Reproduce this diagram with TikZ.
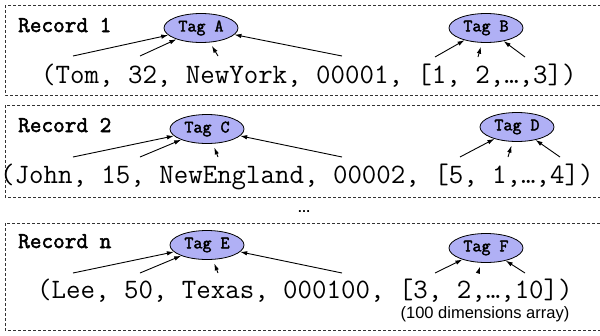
\documentclass[tikz,border=0pt]{standalone}
\usepackage{fontspec}
\setmainfont{Liberation Sans}
\newfontfamily\cour{Latin Modern Mono}[AutoFakeBold=2.2]
\usetikzlibrary{shapes.geometric,arrows.meta}
\definecolor{tagfill}{RGB}{176,176,245}
\tikzset{
  recbox/.style={draw=black!80, dashed, dash pattern=on 3pt off 2pt, line width=0.8pt},
  reclabel/.style={anchor=base west, inner sep=0, font=\cour\bfseries\fontsize{22.6}{23}\selectfont},
  datatext/.style={anchor=base west, inner sep=0, font=\cour\fontsize{28.1}{28}\selectfont},
  tagnode/.style={ellipse, draw=black, line width=0.8pt, fill=tagfill, minimum width=74pt, minimum height=29pt, inner sep=0, font=\cour\bfseries\fontsize{17.5}{17}\selectfont},
  arr/.style={-{Latex[length=7pt,width=4.5pt]}, line width=0.9pt},
  arrs/.style={arr, shorten >=4pt}
}
\begin{document}
\begin{tikzpicture}[x=1pt,y=-1pt]
\useasboundingbox (0,0) rectangle (600,335);
% boxes
\draw[recbox] (5,5) rectangle (603,95);
\draw[recbox] (5,105) rectangle (603,197);
\draw[recbox] (5,223) rectangle (603,330);
% record 1
\node[reclabel] (r1) at (18,32) {Record 1};
\node[datatext] (d1) at (41,83) {(Tom, 32, NewYork, 00001, [1, 2,…,3])};
\node[tagnode] (ta) at (201,28) {Tag A};
\node[tagnode] (tb) at (486,28) {Tag B};
\coordinate (a1) at (73,56);
\coordinate (a2) at (140,56);
\coordinate (a3) at (218,56);
\coordinate (a4) at (342,56);
\coordinate (b1) at (435,57);
\coordinate (b2) at (478,57);
\coordinate (b3) at (525,57);
\draw[arr] (a1) -- (ta);
\draw[arr] (a2) -- (ta);
\draw[arrs] (a3) -- (ta);
\draw[arr] (a4) -- (ta);
\draw[arr] (b1) -- (tb);
\draw[arrs] (b2) -- (tb);
\draw[arr] (b3) -- (tb);
% record 2
\node[reclabel] (r2) at (18,132) {Record 2};
\node[datatext] (d2) at (0,183) {(John, 15, NewEngland, 00002, [5, 1,…,4])};
\node[tagnode] (tc) at (207,129) {Tag C};
\node[tagnode] (td) at (517,127) {Tag D};
\coordinate (c1) at (73,157);
\coordinate (c2) at (140,157);
\coordinate (c3) at (218,157);
\coordinate (c4) at (342,157);
\coordinate (e1) at (460,157);
\coordinate (e2) at (508,157);
\coordinate (e3) at (560,157);
\draw[arr] (c1) -- (tc);
\draw[arr] (c2) -- (tc);
\draw[arrs] (c3) -- (tc);
\draw[arr] (c4) -- (tc);
\draw[arr] (e1) -- (td);
\draw[arrs] (e2) -- (td);
\draw[arr] (e3) -- (td);
% dots
\node[inner sep=0, anchor=base, font=\bfseries\fontsize{13}{13}\selectfont] (dots) at (304,212) {…};
% record n
\node[reclabel] (rn) at (18,248) {Record n};
\node[datatext] (dn) at (37,298) {(Lee, 50, Texas, 000100, [3, 2,…,10])};
\node[tagnode] (te) at (207,245) {Tag E};
\node[tagnode] (tf) at (486,248) {Tag F};
\coordinate (g1) at (73,273);
\coordinate (g2) at (140,273);
\coordinate (g3) at (218,273);
\coordinate (g4) at (342,273);
\coordinate (h1) at (435,273);
\coordinate (h2) at (478,273);
\coordinate (h3) at (525,273);
\draw[arr] (g1) -- (te);
\draw[arr] (g2) -- (te);
\draw[arrs] (g3) -- (te);
\draw[arr] (g4) -- (te);
\draw[arr] (h1) -- (tf);
\draw[arrs] (h2) -- (tf);
\draw[arr] (h3) -- (tf);
\node[inner sep=0, anchor=base, font=\fontsize{16.5}{16.5}\selectfont] (note) at (485,318) {(100 dimensions array)};
\end{tikzpicture}
\end{document}
